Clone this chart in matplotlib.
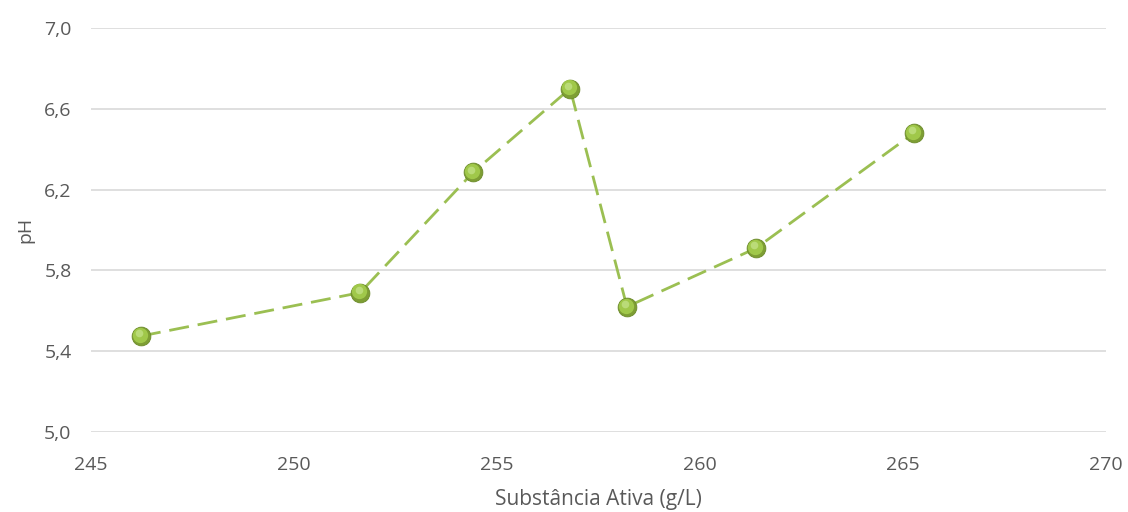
import matplotlib.pyplot as plt
from matplotlib.ticker import FuncFormatter

substancia = [246.23, 251.63, 254.41, 256.80, 258.20, 261.38, 265.27]
ph = [5.475, 5.69, 6.285, 6.70, 5.62, 5.91, 6.48]

x_ticks = [245, 250, 255, 260, 265, 270]
y_ticks = [5.0, 5.4, 5.8, 6.2, 6.6, 7.0]

plt.rcParams['font.family'] = ['Open Sans', 'DejaVu Sans']
gray = '#595959'

fig = plt.figure(figsize=(11.28, 5.12), dpi=100)
ax = fig.add_axes([91 / 1128, 1 - 432 / 512, (1106 - 91) / 1128, (432 - 28) / 512])

ax.plot(substancia, ph, color='#9BBF52', lw=2.0, ls=(0, (7.2, 3.2)), zorder=2)
# shaded sphere-ish markers
ax.plot(substancia, ph, ls='none', marker='o', ms=13.5, mfc='#7E9E34',
        mec='#6A8A28', mew=0.6, zorder=3)
ax.plot([v - 0.02 for v in substancia], [v + 0.006 for v in ph], ls='none',
        marker='o', ms=11, mfc='#A0C84A', mec='none', zorder=4)
ax.plot([v - 0.04 for v in substancia], [v + 0.014 for v in ph], ls='none',
        marker='o', ms=5.5, mfc='#BADB78', mec='none', zorder=5)

ax.set_xlim(245, 270)
ax.set_ylim(5.0, 7.0)
ax.set_xticks(x_ticks)
ax.set_yticks(y_ticks)
ax.yaxis.set_major_formatter(FuncFormatter(lambda v, p: f'{v:.1f}'.replace('.', ',')))
ax.grid(axis='y', color='#D9D9D9', lw=1.2)
ax.set_axisbelow(True)
for s in ax.spines.values():
    s.set_visible(False)
ax.tick_params(length=0, labelsize=14, labelcolor=gray)
ax.tick_params(axis='y', pad=14)
ax.tick_params(axis='x', pad=17)
ax.set_xlabel('Substância Ativa (g/L)', fontsize=15, color=gray, labelpad=11)
ax.set_ylabel('pH', fontsize=14, color=gray, labelpad=7)

fig.savefig('out.png', dpi=100)
